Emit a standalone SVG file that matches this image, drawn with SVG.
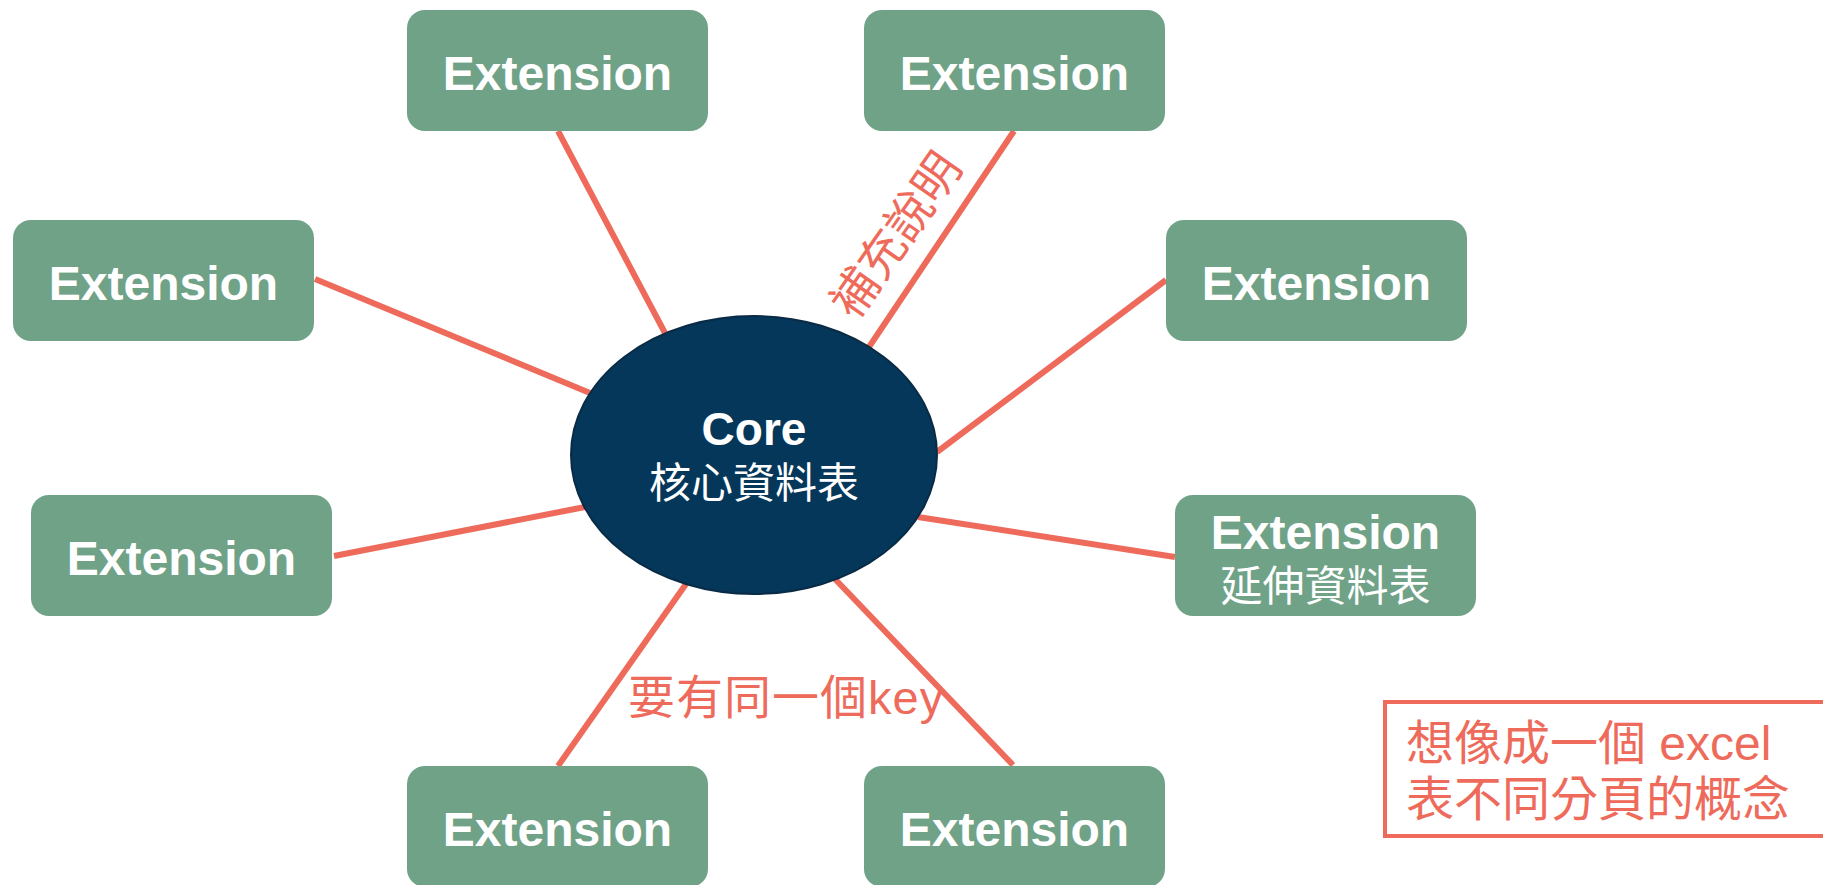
<svg xmlns="http://www.w3.org/2000/svg" width="1823" height="885" viewBox="0 0 1823 885">
  <style>
    .ext rect { fill: #70A288; }
    .ext text, .core text { fill: #FFFFFF; text-anchor: middle; }
    .en { font-family: "Liberation Sans", Arial, sans-serif; font-weight: bold; font-size: 48px; }
    .zh { font-family: "Noto Sans CJK TC", "Noto Sans CJK SC", sans-serif; font-size: 42px; }
    .links line { stroke: #EE6B5B; stroke-width: 6; }
    .note { font-family: "Liberation Sans", "Noto Sans CJK TC", sans-serif; font-size: 47px; fill: #EE6B5B; }
  </style>
  <rect width="1823" height="885" fill="#FFFFFF"/>

  <!-- connectors between the core table and each extension -->
  <g id="connectors" class="links">
    <line x1="558" y1="131" x2="665" y2="333"/>
    <line x1="315" y1="279" x2="590" y2="393"/>
    <line x1="1014" y1="131" x2="869" y2="347"/>
    <line x1="1166" y1="280" x2="937" y2="452"/>
    <line x1="334" y1="556" x2="585" y2="507"/>
    <line x1="918" y1="517" x2="1175" y2="557"/>
    <line x1="686" y1="584" x2="558" y2="766"/>
    <line x1="835" y1="579" x2="1013" y2="765"/>
  </g>

  <g id="core" class="core">
    <ellipse cx="754" cy="455" rx="183" ry="139" fill="#05375A" stroke="#0A2B45" stroke-width="2"/>
    <text class="en" x="754" y="445" style="font-size:46px">Core</text>
    <text class="zh" x="754" y="498">核心資料表</text>
  </g>

  <g id="ext-top-left" class="ext">
    <rect x="407" y="10" width="301" height="121" rx="18"/>
    <text class="en" x="557.5" y="90">Extension</text>
  </g>
  <g id="ext-top-right" class="ext">
    <rect x="864" y="10" width="301" height="121" rx="18"/>
    <text class="en" x="1014.5" y="90">Extension</text>
  </g>
  <g id="ext-left-upper" class="ext">
    <rect x="13" y="220" width="301" height="121" rx="18"/>
    <text class="en" x="163.5" y="300">Extension</text>
  </g>
  <g id="ext-right-upper" class="ext">
    <rect x="1166" y="220" width="301" height="121" rx="18"/>
    <text class="en" x="1316.5" y="300">Extension</text>
  </g>
  <g id="ext-left-lower" class="ext">
    <rect x="31" y="495" width="301" height="121" rx="18"/>
    <text class="en" x="181.5" y="575">Extension</text>
  </g>
  <g id="ext-right-lower" class="ext">
    <rect x="1175" y="495" width="301" height="121" rx="18"/>
    <text class="en" x="1325.5" y="549">Extension</text>
    <text class="zh" x="1325.5" y="601">延伸資料表</text>
  </g>
  <g id="ext-bottom-left" class="ext">
    <rect x="407" y="766" width="301" height="121" rx="18"/>
    <text class="en" x="557.5" y="846">Extension</text>
  </g>
  <g id="ext-bottom-right" class="ext">
    <rect x="864" y="766" width="301" height="121" rx="18"/>
    <text class="en" x="1014.5" y="846">Extension</text>
  </g>

  <!-- connector labels -->
  <g id="label-note" class="note">
    <text transform="translate(896 235) rotate(-55)" text-anchor="middle" dominant-baseline="central">補充說明</text>
  </g>
  <g id="label-key" class="note">
    <text x="628" y="714" letter-spacing="1">要有同一個key</text>
  </g>

  <!-- side remark -->
  <g id="remark">
    <rect x="1385" y="702" width="460" height="134" fill="none" stroke="#EE6B5B" stroke-width="4"/>
    <text class="note" x="1406" y="760" style="font-size:48px">想像成一個 excel</text>
    <text class="note" x="1406" y="816" style="font-size:48px">表不同分頁的概念</text>
  </g>
</svg>
